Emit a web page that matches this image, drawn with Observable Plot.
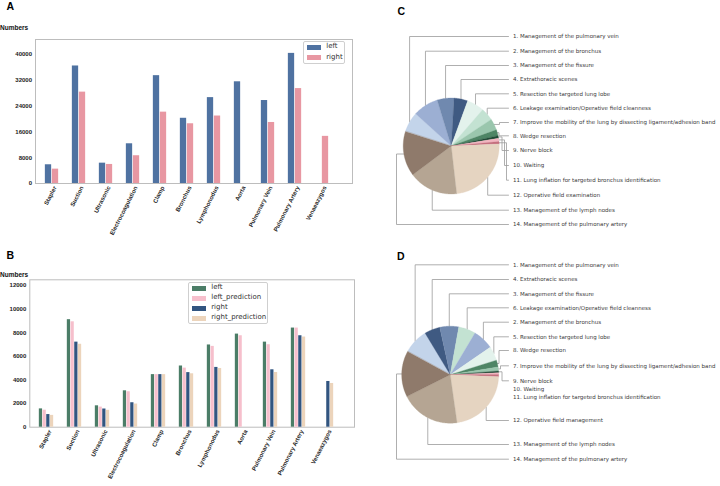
<!DOCTYPE html>
<html><head><meta charset="utf-8">
<script src="https://cdn.jsdelivr.net/npm/d3@7"></script>
<script src="https://cdn.jsdelivr.net/npm/@observablehq/plot@0.6"></script>
<style>
html,body{margin:0;padding:0;background:#fff;}
#root{position:relative;width:720px;height:486px;overflow:hidden;font-family:"Liberation Sans",Arial,sans-serif;}
.plab{position:absolute;font-weight:bold;font-size:10.5px;line-height:1;color:#000;}
.ylab{position:absolute;font-weight:bold;font-size:6.5px;line-height:1;color:#111;}
.legend{position:absolute;border:1px solid #cfcfcf;border-radius:2px;background:#fff;box-sizing:border-box;font-family:"DejaVu Sans",sans-serif;font-size:7px;color:#333;}
.legend .sw{position:absolute;width:14px;height:5px;}
.legend .tx{position:absolute;line-height:1;white-space:nowrap;}
</style></head>
<body><div id="root"></div>
<script>
// ---------- data ----------
const categories = ["Stapler","Suction","Ultrasonic","Electrocoagulation","Clamp","Bronchus","Lymphonodus","Aorta","Pulmonary Vein","Pulmonary Artery","Venaeazygos"];

// Panel A
const aSeries = ["left","right"];
const aLeft  = [5800,36400,6300,12300,33400,20200,26600,31500,25700,40300,0];
const aRight = [4450,28300,5900,8600,22100,18500,20900,0,18900,29400,14600];
const aTicks = [0,8000,16000,24000,32000,40000];

// Panel B
const bSeries = ["left","left_prediction","right","right_prediction"];
const bLeft      = [1550,9100,1810,3080,4450,5180,6960,7880,7200,8390,0];
const bLeftPred  = [1440,8920,1700,3000,4450,5000,6840,7740,6980,8390,0];
const bRight     = [1070,7200,1540,2070,4450,4620,5060,0,4860,7740,3870];
const bRightPred = [1000,7020,1430,1960,4450,4520,4970,0,4630,7630,3700];
const bTicks = [0,2000,4000,6000,8000,10000,12000];

// Panels C and D (phase shares, percent, indexed by phase number 1..14)
const phaseNames = [
  "Management of the pulmonary vein",
  "Management of the bronchus",
  "Management of the fissure",
  "Extrathoracic scenes",
  "Resection the targeted lung lobe",
  "Leakage examination/Operative field cleanness",
  "Improve the mobility of the lung by dissecting ligament/adhesion band",
  "Wedge resection",
  "Nerve block",
  "Waiting",
  "Lung inflation for targeted bronchus identification",
  "Operative field examination",
  "Management of the lymph nodes",
  "Management of the pulmonary artery"
];
const phaseNamesD = phaseNames.map((n,i) => i === 11 ? "Operative field management" : n);
const cShares = [6.8,8.6,5.7,4.6,5.8,4.3,3.9,2.0,0.9,1.1,0.8,23.9,16.6,15.2];
const dShares = [8.4,6.9,6.3,5.2,4.7,5.7,1.3,2.3,0.6,0.6,0.7,22.1,19.8,15.4];
const cOrder = [1,2,3,4,5,6,7,8,9,10,11,12,13,14];
const dOrder = [1,4,3,6,2,5,8,7,9,10,11,12,13,14];

// ---------- styles ----------
const aColors = ["#4f72a1","#e897a2"];
const bColors = ["#4b7d67","#f6bfcc","#325580","#ecd4bb"];
const pieColors = ["#c3d4ea","#9cafd3","#7089af","#3f5a82","#e3f2ec","#c3e2d2","#9ac6ad",
                   "#4e8565","#1f4a35","#f2b5c0","#c46f7e","#e5d4c1","#b5a593","#8f7a6b"];

const root = document.getElementById("root");
function place(el, left, top) { el.style.position = "absolute"; el.style.left = left + "px"; el.style.top = top + "px"; root.appendChild(el); return el; }
function div(cls, text, left, top) { const d = document.createElement("div"); d.className = cls; d.textContent = text; return place(d, left, top); }

function groupedBars(data, keys, colors, bw, w) {
  const n = keys.length;
  return keys.map((k, j) => {
    const il = bw / 2 + (j - n / 2) * w;
    return Plot.barY(data.filter(d => d[k] > 0), {x: "cat", y: k, fill: colors[j], insetLeft: il, insetRight: bw - il - w});
  });
}

function barPanel({data, keys, colors, width, height, ml, mr, mt, mb, xr, ymax, ticks, w, ldx}) {
  const bw = (xr[1] - xr[0]) / categories.length;
  return Plot.plot({
    width, height, marginLeft: ml, marginRight: mr, marginTop: mt, marginBottom: mb,
    style: {fontFamily: "Liberation Sans, Arial, sans-serif", fontSize: "6px", fontWeight: "bold", color: "#222", background: "transparent", overflow: "visible"},
    x: {domain: categories, range: xr, padding: 0, label: null},
    y: {domain: [0, ymax], label: null},
    marks: [
      Plot.frame({stroke: "#bdbdbd", strokeWidth: 1}),
      ...groupedBars(data, keys, colors, bw, w),
      Plot.axisX({tickRotate: -63, tickSize: 0, tickPadding: 3, dx: ldx, label: null}),
      Plot.axisY({ticks, tickSize: 0, tickPadding: 3.5, tickFormat: d => String(d), label: null})
    ]
  });
}

// Panel A
const aData = categories.map((c, i) => ({cat: c, left: aLeft[i], right: aRight[i]}));
place(barPanel({data: aData, keys: aSeries, colors: aColors, width: 365, height: 240,
  ml: 35, mr: 13, mt: 39, mb: 57, xr: [34.15, 338.85], ymax: 44600, ticks: aTicks, w: 7, ldx: 3}), 0, 0);

// Panel B
const bData = categories.map((c, i) => ({cat: c, left: bLeft[i], left_prediction: bLeftPred[i], right: bRight[i], right_prediction: bRightPred[i]}));
place(barPanel({data: bData, keys: bSeries, colors: bColors, width: 360, height: 246,
  ml: 29.3, mr: 6, mt: 39.3, mb: 59.3, xr: [29.07, 342.2], ymax: 12475, ticks: bTicks, w: 3.7, ldx: 3.5}), 0, 240);

// legends
function legend(names, colors, left, top, w, h, rows) {
  const box = document.createElement("div"); box.className = "legend";
  box.style.width = w + "px"; box.style.height = h + "px";
  names.forEach((n, i) => {
    const s = document.createElement("div"); s.className = "sw"; s.style.background = colors[i];
    s.style.left = "3px"; s.style.top = (rows[i] - 2.5) + "px"; box.appendChild(s);
    const t = document.createElement("div"); t.className = "tx"; t.textContent = n;
    t.style.left = "22.5px"; t.style.top = (rows[i] - 4) + "px"; box.appendChild(t);
  });
  place(box, left, top);
}
legend(aSeries, aColors, 302.7, 41, 42.5, 22.5, [5.2, 15.5]);
legend(bSeries, bColors, 187.7, 282.3, 80.8, 41.7, [5.2, 14.9, 25.2, 34.9]);

// labels
div("plab", "A", 6.5, 0.5);
div("plab", "B", 6.5, 249.8);
div("plab", "C", 397.5, 5.5);
div("plab", "D", 397, 250.8);
div("ylab", "Numbers", 0, 24.5);
div("ylab", "Numbers", 0, 272);

// ---------- pies ----------
const OX = 360;
const lineEnd = 508, textX = 512.5;
function pieParts({key, cx, cy, r, order, shares, start, labelY, leaders, names}) {
  const total = d3.sum(order, n => shares[n - 1]);
  let a = start;
  const slices = [], lines = [], texts = [];
  order.forEach((n, i) => {
    const span = shares[n - 1] / total * 360;
    const a0 = a, a1 = a + span; a = a1;
    slices.push({x: cx, y: cy, key: key + n, color: pieColors[n - 1]});
    const steps = Math.max(2, Math.ceil(span));
    for (let s = 0; s <= steps; s++) {
      const t = (a0 + span * s / steps) * Math.PI / 180;
      slices.push({x: cx + r * Math.sin(t), y: cy - r * Math.cos(t), key: key + n, color: pieColors[n - 1]});
    }
    const mid = (a0 + a1) / 2 * Math.PI / 180;
    const ax = cx + r * Math.sin(mid), ay = cy - r * Math.cos(mid);
    const ly = labelY[i], L = leaders[i];
    let path = null;
    if (L.t === "v") path = [[ax, ay], [ax, ly], [lineEnd, ly]];
    else if (L.t === "e") path = [[ax, ay], [L.x, ay], [L.x, ly], [lineEnd, ly]];
    if (path) path.forEach(([x, y]) => lines.push({x, y, key: key + n}));
    texts.push({x: textX, y: ly, text: `${n}. ${names[n - 1]}`});
  });
  return {slices, lines, texts};
}
const V = {t: "v"}, N = {t: "none"};
const C = pieParts({key: "c", cx: 450.7, cy: 145.5, r: 48, order: cOrder, shares: cShares, start: -72.3,
  labelY: [36, 50.7, 65, 79, 93.3, 107.7, 122, 135.3, 150, 165, 179.7, 194.7, 209.7, 224],
  leaders: [V, V, V, V, V, V, {t: "e", x: 499}, {t: "e", x: 498.5}, {t: "e", x: 501.5}, {t: "e", x: 504}, {t: "e", x: 506}, V, V, {t: "e", x: 396}],
  names: phaseNames});
const D = pieParts({key: "d", cx: 449.7, cy: 374.2, r: 48.5, order: dOrder, shares: dShares, start: -61.4,
  labelY: [264.3, 279, 293.3, 307.3, 321.7, 336.3, 350, 365.3, 380.3, 388.3, 396.3, 420, 444, 458.7],
  leaders: [V, V, V, V, V, V, {t: "e", x: 498.5}, {t: "e", x: 500}, {t: "e", x: 501.5}, N, N, V, V, {t: "e", x: 396}],
  names: phaseNamesD});

const slices = C.slices.concat(D.slices), lines = C.lines.concat(D.lines), texts = C.texts.concat(D.texts);
place(Plot.plot({
  width: 360, height: 486, margin: 0,
  style: {background: "transparent", fontFamily: "DejaVu Sans, sans-serif", overflow: "visible"},
  x: {type: "identity", axis: null}, y: {type: "identity", axis: null},
  marks: [
    Plot.line(lines, {x: d => d.x - OX, y: "y", z: "key", stroke: "#9a9a9a", strokeWidth: 0.8}),
    Plot.line(slices, {x: d => d.x - OX, y: "y", z: "key", fill: "color", stroke: "color", strokeWidth: 0.3, curve: "linear-closed"}),
    Plot.text(texts, {x: d => d.x - OX, y: "y", text: "text", textAnchor: "start", fontSize: 5.5, fill: "#3a3a3a"})
  ]
}), OX, 0);
</script>
</body></html>
